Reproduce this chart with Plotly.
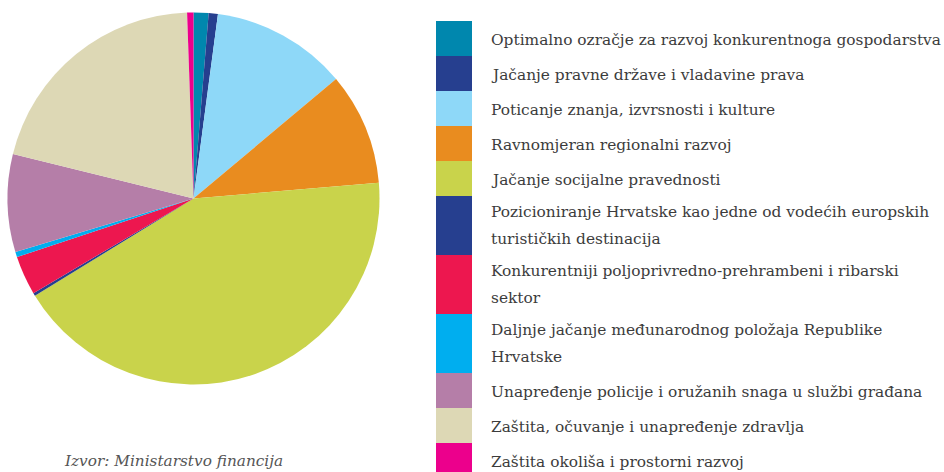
import plotly.graph_objects as go

W, H = 944, 472

labels = [
    "Optimalno ozračje za razvoj konkurentnoga gospodarstva",
    "Jačanje pravne države i vladavine prava",
    "Poticanje znanja, izvrsnosti i kulture",
    "Ravnomjeran regionalni razvoj",
    "Jačanje socijalne pravednosti",
    "Pozicioniranje Hrvatske kao jedne od vodećih europskih turističkih destinacija",
    "Konkurentniji poljoprivredno-prehrambeni i ribarski sektor",
    "Daljnje jačanje međunarodnog položaja Republike Hrvatske",
    "Unapređenje policije i oružanih snaga u službi građana",
    "Zaštita, očuvanje i unapređenje zdravlja",
    "Zaštita okoliša i prostorni razvoj",
]
legend_lines = [
    ["Optimalno ozračje za razvoj konkurentnoga gospodarstva"],
    ["Jačanje pravne države i vladavine prava"],
    ["Poticanje znanja, izvrsnosti i kulture"],
    ["Ravnomjeran regionalni razvoj"],
    ["Jačanje socijalne pravednosti"],
    ["Pozicioniranje Hrvatske kao jedne od vodećih europskih", "turističkih destinacija"],
    ["Konkurentniji poljoprivredno-prehrambeni i ribarski", "sektor"],
    ["Daljnje jačanje međunarodnog položaja Republike", "Hrvatske"],
    ["Unapređenje policije i oružanih snaga u službi građana"],
    ["Zaštita, očuvanje i unapređenje zdravlja"],
    ["Zaštita okoliša i prostorni razvoj"],
]
values = [1.3, 0.8, 11.8, 9.75, 42.6, 0.25, 3.4, 0.45, 8.5, 20.6, 0.55]
colors = ["#0087ae", "#263f8f", "#8ed8f8", "#e98c1f", "#c9d34b", "#263f8f",
          "#ed174f", "#00aeef", "#b57ea8", "#ddd8b5", "#ec008c"]
source = "Izvor: Ministarstvo financija"

# pie geometry (pixels)
cx, cy, r = 193.5, 198.5, 186

fig = go.Figure(go.Pie(
    labels=labels, values=values, sort=False, direction="clockwise", rotation=0,
    marker=dict(colors=colors, line=dict(width=0)),
    textinfo="none", hoverinfo="label+percent", showlegend=False,
    domain=dict(x=[(cx - r) / W, (cx + r) / W], y=[1 - (cy + r) / H, 1 - (cy - r) / H]),
))

font_family = "DejaVu Serif"
shapes, annotations = [], []
y0 = 21.0
sw_x0, sw_x1, text_x = 436, 472, 489
for col, lines in zip(colors, legend_lines):
    h = 35 if len(lines) == 1 else 59
    shapes.append(dict(type="rect", xref="paper", yref="paper",
                       x0=sw_x0 / W, x1=sw_x1 / W, y0=1 - y0 / H, y1=1 - (y0 + h) / H,
                       fillcolor=col, line=dict(width=0), layer="above"))
    if len(lines) == 1:
        ys = [y0 + 19]
    else:
        ys = [y0 + 16, y0 + 43]
    for ln, yy in zip(lines, ys):
        annotations.append(dict(text=ln, x=text_x / W, y=1 - yy / H, xref="paper", yref="paper",
                                xanchor="left", yanchor="middle", showarrow=False,
                                font=dict(family=font_family, size=15.4, color="#3c3c3c")))
    y0 += h

annotations.append(dict(text="<i>" + source + "</i>", x=62 / W, y=1 - 461 / H,
                        xref="paper", yref="paper", xanchor="left", yanchor="middle",
                        showarrow=False, font=dict(family=font_family, size=15.3, color="#555555")))

fig.update_layout(width=W, height=H, margin=dict(l=0, r=0, t=0, b=0),
                  paper_bgcolor="white", plot_bgcolor="white",
                  shapes=shapes, annotations=annotations, showlegend=False)
fig.write_html("out.html", config={"displayModeBar": False},
               post_script="document.body.style.margin='0';")
